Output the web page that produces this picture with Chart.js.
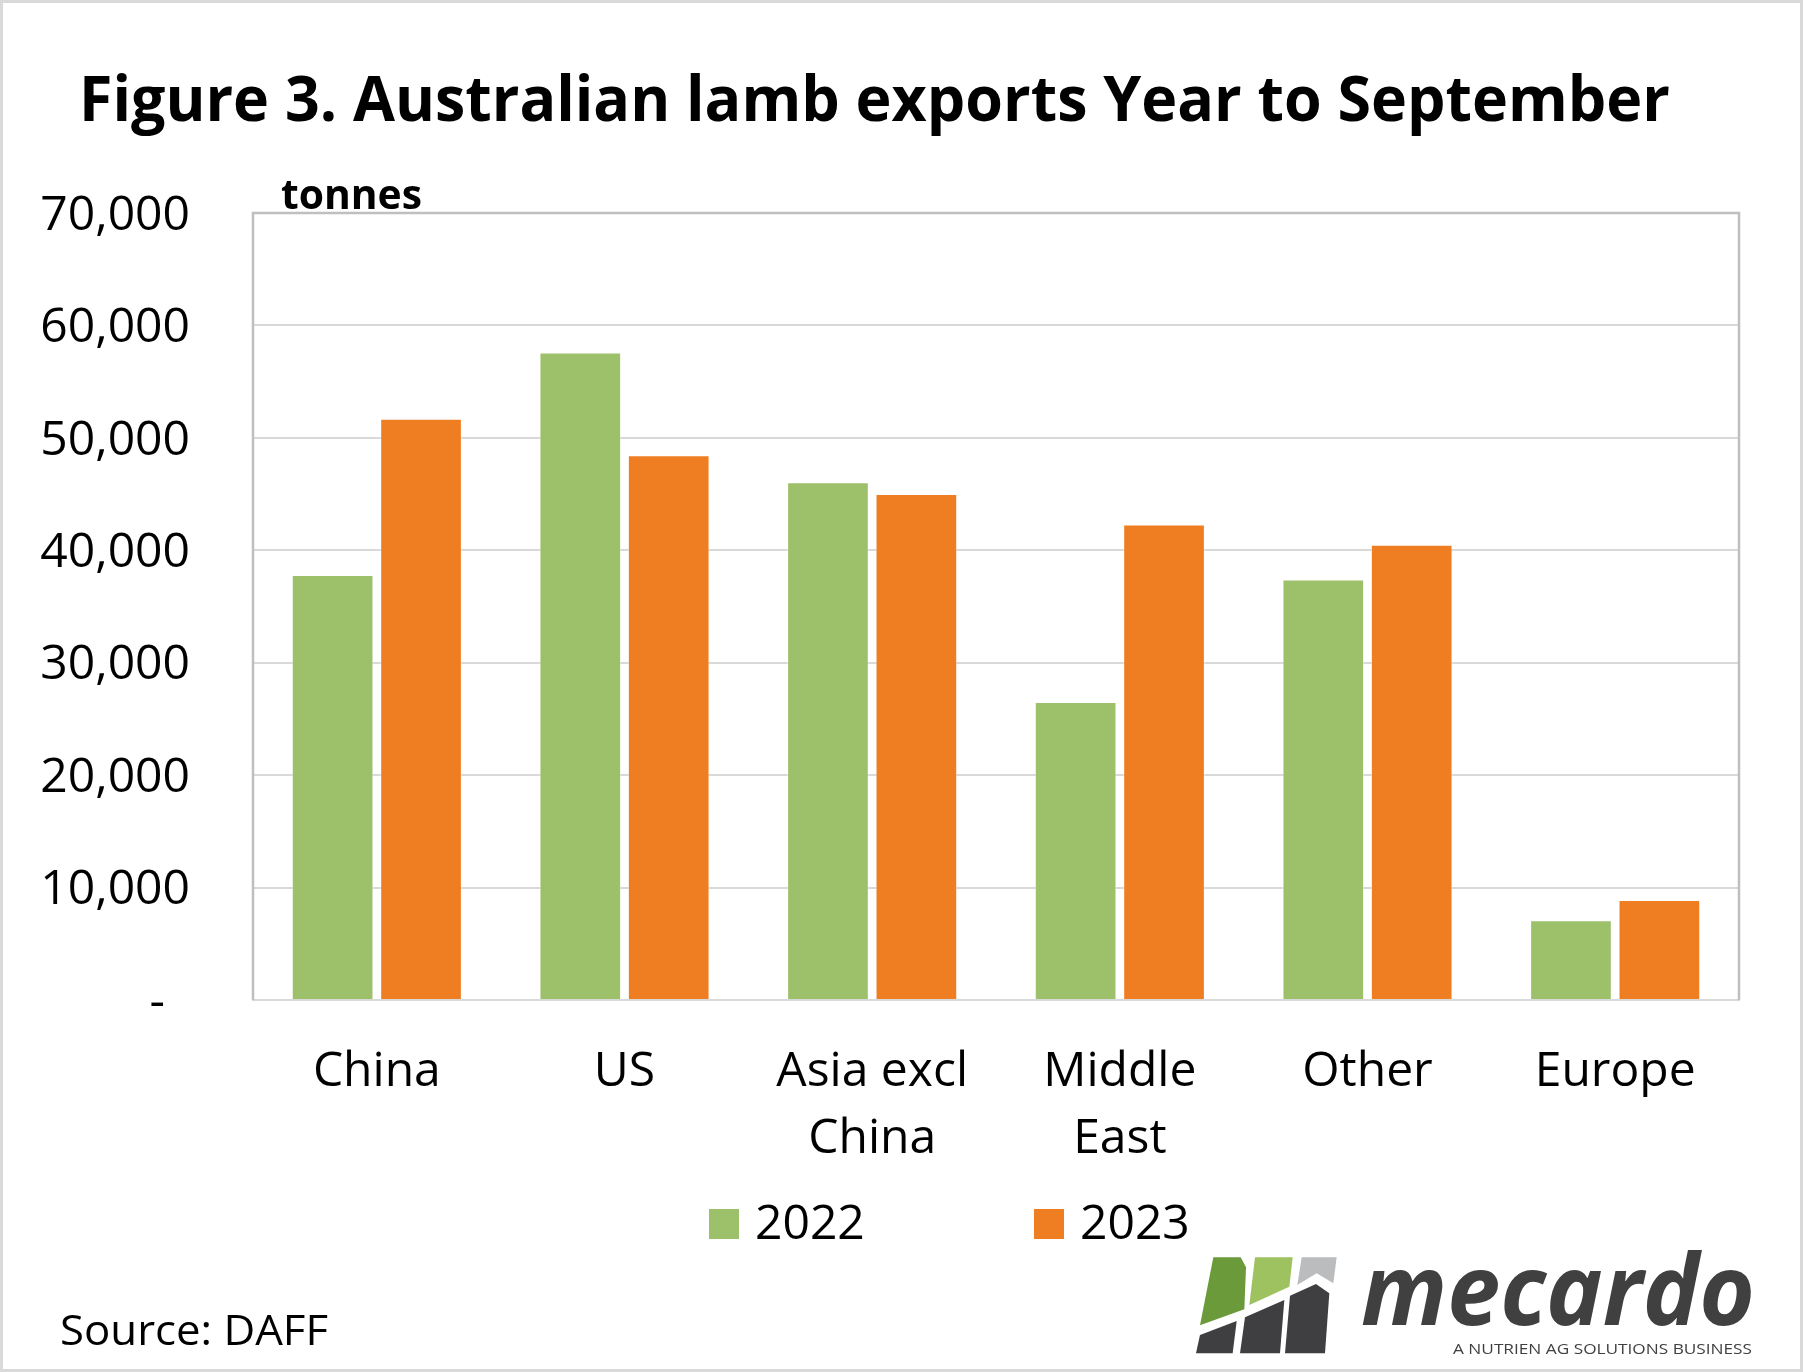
<!DOCTYPE html>
<html><head><meta charset="utf-8">
<script src="https://cdn.jsdelivr.net/npm/chart.js@4.4.0/dist/chart.umd.min.js"></script>
<style>html,body{margin:0;padding:0;background:#fff;overflow:hidden}canvas{display:block}</style>
</head><body>
<canvas id="c" width="1803" height="1372" style="width:1803px;height:1372px"></canvas>
<script>
// ---- data ----
const categories = [['China'], ['US'], ['Asia excl', 'China'], ['Middle', 'East'], ['Other'], ['Europe']];
const seriesLabels = ['2022', '2023'];
const values2022 = [37800, 57600, 46050, 26500, 37400, 7100];
const values2023 = [51700, 48450, 45000, 42300, 40500, 8900];
const yTickValues = [0, 10000, 20000, 30000, 40000, 50000, 60000, 70000];
const yTickLabels = ['-  ', '10,000', '20,000', '30,000', '40,000', '50,000', '60,000', '70,000'];
const titleText = 'Figure 3. Australian lamb exports Year to September';
const unitText = 'tonnes';
const sourceText = 'Source: DAFF';

// ---- style ----
const FONT = '"Open Sans", sans-serif';
const GREEN = '#9DC16A';
const ORANGE = '#EF7E22';

function fitText(ctx, text, x, y, font, width, color) {
  ctx.save();
  ctx.font = font; ctx.fillStyle = color;
  ctx.textBaseline = 'alphabetic'; ctx.textAlign = 'left';
  const w = ctx.measureText(text).width;
  ctx.translate(x, y); ctx.scale(width / w, 1);
  ctx.fillText(text, 0, 0);
  ctx.restore();
}
function poly(ctx, pts, color, ox, oy) {
  ctx.beginPath();
  pts.forEach((p, i) => { const X = ox + p[0] / 3, Y = oy + p[1] / 3; i ? ctx.lineTo(X, Y) : ctx.moveTo(X, Y); });
  ctx.closePath(); ctx.fillStyle = color; ctx.fill();
}

const decor = {
  id: 'decor',
  beforeDraw(chart) {
    const ctx = chart.ctx;
    ctx.save(); ctx.fillStyle = '#fff'; ctx.fillRect(0, 0, chart.width, chart.height); ctx.restore();
  },
  beforeDatasetsDraw(chart) {
    const ctx = chart.ctx, a = chart.chartArea;
    ctx.save();
    ctx.strokeStyle = '#BFBFBF'; ctx.lineWidth = 2.5;
    ctx.beginPath();
    ctx.moveTo(a.left, a.bottom); ctx.lineTo(a.left, a.top); ctx.lineTo(a.right, a.top); ctx.lineTo(a.right, a.bottom);
    ctx.stroke();
    ctx.restore();
  },
  afterDraw(chart) {
    const ctx = chart.ctx;
    // title
    fitText(ctx, titleText, 79, 121, 'bold 63px ' + FONT, 1591, '#000');
    // unit
    fitText(ctx, unitText, 281, 209, 'bold 42px ' + FONT, 141, '#000');
    // source
    fitText(ctx, sourceText, 60, 1345, '42px ' + FONT, 268, '#000');
    // legend (from datasets)
    const legendX = [709, 1034];
    chart.data.datasets.forEach((ds, i) => {
      ctx.save();
      ctx.fillStyle = ds.backgroundColor;
      ctx.fillRect(legendX[i], 1209, 30, 30);
      ctx.fillStyle = '#000'; ctx.font = '48px ' + FONT;
      ctx.textBaseline = 'alphabetic'; ctx.textAlign = 'left';
      ctx.fillText(ds.label, legendX[i] + 46, 1239);
      ctx.restore();
    });
    // logo
    const ox = 1190, oy = 1240;
    ctx.save();
    poly(ctx, [[70,52],[152,52],[168,82],[163,208],[30,256]], '#6A9A3A', ox, oy);
    poly(ctx, [[195,52],[308,52],[298,140],[178,195]], '#9DC25F', ox, oy);
    poly(ctx, [[335,52],[440,52],[430,130],[380,100],[322,135]], '#BBBCBE', ox, oy);
    poly(ctx, [[30,285],[140,243],[128,340],[18,340]], '#3F3F41', ox, oy);
    poly(ctx, [[165,232],[283,180],[270,340],[150,340]], '#3F3F41', ox, oy);
    poly(ctx, [[300,167],[378,132],[418,160],[405,340],[285,340]], '#3F3F41', ox, oy);
    ctx.restore();
    fitText(ctx, 'mecardo', 1361, 1325, 'italic bold 99px ' + FONT, 394, '#404040');
    fitText(ctx, 'A NUTRIEN AG SOLUTIONS BUSINESS', 1453, 1354, '15px ' + FONT, 299, '#404040');
    // outer frame
    ctx.save();
    ctx.strokeStyle = '#D9D9D9'; ctx.lineWidth = 3;
    ctx.strokeRect(1.5, 1.5, chart.width - 3, chart.height - 3);
    ctx.restore();
  }
};

new Chart(document.getElementById('c'), {
  type: 'bar',
  data: {
    labels: categories,
    datasets: [
      { label: seriesLabels[0], data: values2022, backgroundColor: GREEN, borderColor: 'rgba(255,255,255,0.45)', borderWidth: 1 },
      { label: seriesLabels[1], data: values2023, backgroundColor: ORANGE, borderColor: 'rgba(255,255,255,0.45)', borderWidth: 1 }
    ]
  },
  options: {
    responsive: false,
    animation: false,
    devicePixelRatio: 1,
    layout: { padding: { top: 213, right: 64, left: 0, bottom: 0 } },
    plugins: { legend: { display: false }, title: { display: false }, tooltip: { enabled: false } },
    datasets: { bar: { barPercentage: 0.924, categoryPercentage: 0.714 } },
    scales: {
      x: {
        grid: { display: false, drawTicks: false },
        border: { display: true, color: '#D9D9D9', width: 2 },
        ticks: { color: '#000', font: { family: FONT, size: 48, lineHeight: 1.39 }, padding: 39, maxRotation: 0, autoSkip: false },
        afterFit(s) { s.height = 372; }
      },
      y: {
        min: 0, max: 70000,
        afterBuildTicks(s) { s.ticks = yTickValues.map(v => ({ value: v })); },
        grid: { color: '#D9D9D9', lineWidth: 2, drawTicks: false },
        border: { display: false },
        ticks: {
          color: '#000', font: { family: FONT, size: 48 }, padding: 63, labelOffset: 3,
          callback(v) { const i = yTickValues.indexOf(v); return i >= 0 ? yTickLabels[i] : ''; }
        },
        afterFit(s) { s.width = 253; }
      }
    }
  },
  plugins: [decor]
});
</script>
</body></html>
